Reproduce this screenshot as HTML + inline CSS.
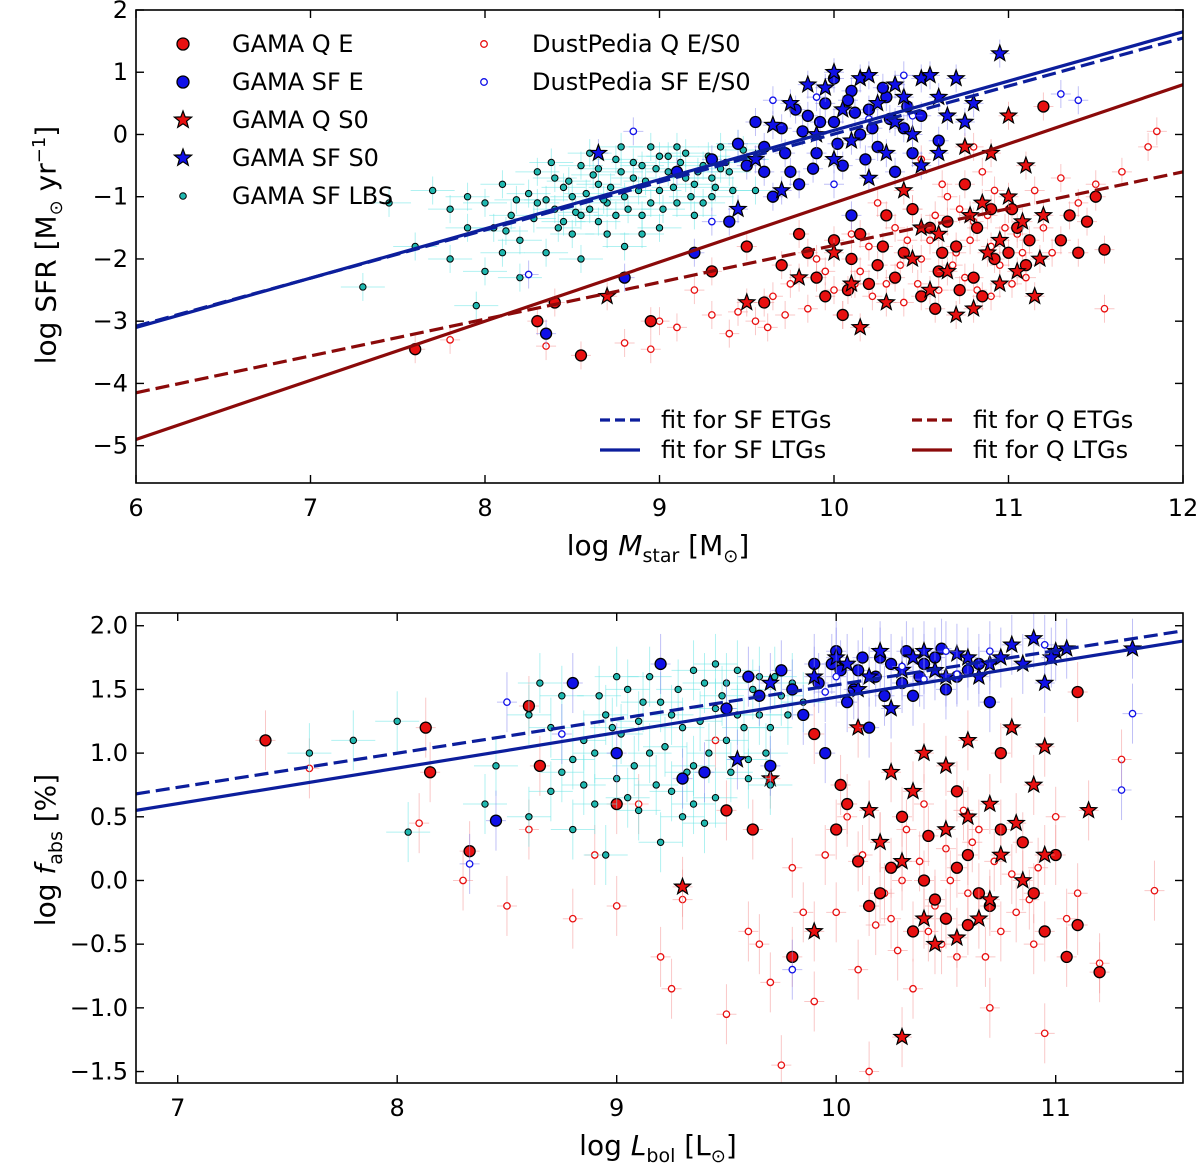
<!DOCTYPE html>
<html><head><meta charset="utf-8">
<style>
body{margin:0;background:#fff;}
svg text{font-family:"DejaVu Sans","Liberation Sans",sans-serif;fill:#000;}
</style></head>
<body>
<svg id="chart" width="1200" height="1171" viewBox="0 0 1200 1171" xmlns="http://www.w3.org/2000/svg"></svg>
<script>
// ---- Top panel data (log Mstar, log SFR) ----
const topLBS=[[7.3,-2.45],[7.45,-1.1],[7.6,-1.8],[7.7,-0.9],[7.8,-1.2],[7.9,-1.0],[8.0,-2.2],[8.05,-1.5],[8.1,-0.8],[8.15,-1.3],[8.2,-1.7],[8.25,-0.95],[8.3,-1.1],[8.35,-1.9],[8.4,-0.7],[8.45,-1.4],[8.5,-1.0],[8.55,-0.5],[8.6,-1.2],[8.65,-0.8],[8.7,-1.6],[8.75,-0.4],[8.8,-1.0],[8.85,-0.7],[8.9,-1.3],[8.95,-0.2],[9.0,-0.9],[9.05,-0.6],[9.1,-1.1],[9.15,-0.3],[9.2,-0.8],[9.25,-0.5],[9.3,-1.0],[9.35,-0.2],[9.4,-0.6],[9.5,-0.4],[9.55,-0.9],[8.6,-0.3],[8.3,-0.6],[8.0,-1.1],[8.9,-0.5],[9.0,-1.5],[8.5,-1.6],[8.2,-2.3],[7.8,-2.0],[9.2,-1.3],[8.7,-1.1],[9.1,-0.2],[8.4,-1.2],[8.8,-1.8],[9.3,-0.7],[8.1,-1.9],[7.95,-2.75],[8.55,-2.0],[8.65,-1.4],[8.95,-1.1],[9.05,-0.35],[8.45,-0.85],
[8.52,-1.25],[8.58,-0.95],[8.62,-0.65],[8.68,-1.05],[8.72,-0.85],[8.78,-0.6],[8.82,-1.2],[8.88,-0.9],[8.92,-0.75],[8.98,-0.55],[9.02,-1.2],[9.08,-0.85],[9.12,-0.45],[9.18,-1.0],[9.22,-0.6],[9.28,-0.35],[9.32,-0.85],[9.38,-0.45],[9.42,-0.9],[9.48,-0.25],[8.35,-1.05],[8.42,-1.5],[8.48,-0.75],[8.28,-1.35],[8.18,-1.05],[8.75,-1.3],[8.85,-0.45],[9.15,-0.7],[9.25,-1.1],[8.55,-1.3],[8.9,-1.6],[9.0,-0.35],[8.65,-0.55],[9.35,-0.55],[8.38,-0.45],[8.12,-1.55],[7.9,-1.5],[8.78,-0.2],[9.45,-0.15]];
const topSFE=[[8.35,-3.2],[8.8,-2.3],[9.2,-1.9],[9.4,-1.4],[9.5,-0.5],[9.6,-0.2],[9.7,0.1],[9.8,-0.8],[9.85,0.3],[9.9,-0.3],[9.95,0.5],[10.0,0.2],[10.05,-0.5],[10.1,0.7],[10.15,0.0],[10.2,0.4],[10.25,-0.2],[10.3,0.6],[10.4,0.1],[10.5,0.3],[10.6,-0.1],[9.3,-0.4],[9.65,-1.0],[10.1,-1.3],[9.1,-0.6],[10.0,0.9],[9.75,-0.6],[9.55,0.2],[10.35,-0.6],
[9.6,-0.6],[9.72,-0.3],[9.82,0.05],[9.92,0.2],[10.02,-0.15],[10.12,0.35],[10.22,0.1],[10.32,0.25],[10.42,0.45],[9.88,-0.55],[10.08,0.55],[9.45,-0.15],[10.18,-0.4],[10.45,-0.3],[9.78,0.4],[10.28,0.75]];
const topSFS0=[[8.65,-0.3],[9.45,-1.2],[9.55,-0.4],[9.7,-0.9],[9.9,0.0],[10.0,1.0],[10.05,0.4],[10.15,0.9],[10.25,0.5],[10.3,-0.3],[10.35,0.8],[10.45,0.0],[10.5,0.9],[10.6,0.6],[10.7,0.9],[10.75,0.2],[10.5,-0.5],[10.2,-0.7],[10.95,1.3],[9.75,0.5],[10.1,-0.1],[9.85,0.8],
[10.55,0.95],[10.65,0.3],[10.4,0.6],[10.2,0.95],[9.95,0.75],[10.8,0.5],[10.0,-0.4],[9.65,0.15],[10.35,0.2],[10.6,-0.3]];
const topQE=[[7.6,-3.45],[8.3,-3.0],[8.4,-2.7],[8.55,-3.55],[8.95,-3.0],[9.3,-2.2],[9.5,-1.8],[9.6,-2.7],[9.7,-2.1],[9.8,-1.6],[9.9,-2.3],[10.0,-1.7],[10.05,-2.9],[10.1,-2.0],[10.2,-2.4],[10.3,-1.3],[10.4,-1.9],[10.5,-2.6],[10.55,-1.5],[10.6,-2.2],[10.7,-1.8],[10.75,-0.8],[10.8,-2.3],[10.9,-1.2],[11.0,-1.9],[11.05,-1.5],[11.1,-2.1],[11.2,0.45],[11.3,-1.7],[11.35,-1.3],[11.45,-1.4],[11.5,-1.0],[11.55,-1.85],[10.25,-2.1],[9.95,-2.6],[10.65,-1.4],[10.85,-2.6],
[10.15,-1.6],[10.35,-2.3],[10.45,-1.2],[10.62,-1.9],[10.72,-2.5],[10.82,-1.5],[10.92,-2.0],[11.02,-1.2],[10.08,-2.5],[10.28,-1.8],[9.85,-1.9],[10.58,-2.8],[11.12,-1.7],[11.4,-1.9]];
const topQS0=[[8.7,-2.6],[9.5,-2.7],[9.8,-2.3],[10.0,-1.9],[10.1,-2.4],[10.15,-3.1],[10.3,-2.7],[10.45,-2.0],[10.55,-2.5],[10.6,-1.6],[10.7,-2.9],[10.8,-2.8],[10.85,-1.1],[10.9,-0.3],[10.95,-1.7],[11.0,0.3],[11.05,-2.2],[11.1,-0.5],[11.15,-2.6],[10.75,-0.2],[10.4,-0.9],[10.65,-2.2],[11.2,-1.3],
[10.95,-2.4],[11.0,-1.0],[10.88,-1.9],[11.08,-1.4],[10.5,-1.5],[10.78,-1.3],[11.18,-2.0]];
const topDPQ=[[7.8,-3.3],[8.35,-3.4],[8.8,-3.35],[8.95,-3.45],[9.1,-3.1],[9.3,-2.9],[9.4,-3.2],[9.55,-3.0],[9.65,-2.6],[9.75,-2.4],[9.85,-2.8],[9.9,-2.0],[10.0,-2.5],[10.1,-1.6],[10.15,-2.2],[10.2,-1.8],[10.3,-2.4],[10.35,-1.5],[10.4,-2.7],[10.45,-1.2],[10.5,-2.0],[10.55,-1.7],[10.6,-2.5],[10.65,-1.0],[10.7,-1.9],[10.75,-2.3],[10.8,-1.4],[10.85,-0.6],[10.9,-1.8],[10.95,-2.1],[11.0,-1.2],[11.05,-1.6],[11.1,-2.3],[11.15,-0.9],[11.2,-1.5],[11.3,-0.7],[11.4,-1.1],[11.5,-0.8],[11.55,-2.8],[11.85,0.05],[11.8,-0.2],[11.65,-0.6],[10.5,-0.4],[10.25,-1.1],[10.8,-0.2],[9.2,-2.5],[9.0,-3.0],[10.05,-2.9],[10.9,-2.6],[11.25,-1.9],
[10.22,-2.6],[10.38,-2.1],[10.48,-2.4],[10.58,-1.3],[10.68,-2.1],[10.78,-1.7],[10.88,-1.3],[10.98,-1.5],[11.08,-1.9],[10.62,-0.8],[10.72,-1.2],[10.92,-0.9],[11.02,-2.4],[10.42,-1.7],[10.12,-2.4],[9.95,-2.2],[9.72,-2.9],[9.62,-3.1],[9.45,-2.85],[10.82,-2.5]];
const topDPSF=[[9.65,0.55],[8.85,0.05],[9.3,-1.4],[10.0,-0.8],[10.4,0.95],[10.45,0.3],[10.2,0.25],[11.3,0.65],[11.4,0.55],[9.9,0.6],[8.25,-2.25]];
// fit lines: [x0,y0,x1,y1]
const topFitSFETG=[6,-3.08,12,1.55];
const topFitSFLTG=[6,-3.1,12,1.65];
const topFitQETG=[6,-4.15,12,-0.6];
const topFitQLTG=[6,-4.9,12,0.8];
const topXTicks=[6,7,8,9,10,11,12];
const topYTicks=[2,1,0,-1,-2,-3,-4,-5];
// ---- Bottom panel data (log Lbol, log fabs) ----
const botLBS=[[7.6,1.0],[7.8,1.1],[8.0,1.25],[8.05,0.38],[8.4,0.6],[8.45,0.9],[8.6,0.5],[8.7,0.7],[8.75,0.85],[8.8,0.4],[8.85,1.1],[8.9,0.6],[8.95,1.3],[9.0,0.8],[9.05,1.5],[9.1,0.55],[9.15,1.0],[9.2,1.4],[9.25,0.7],[9.3,1.2],[9.35,0.9],[9.4,1.55],[9.45,0.65],[9.5,1.1],[9.55,1.3],[9.6,0.95],[9.65,1.6],[9.7,1.2],[9.75,1.45],[9.0,1.6],[8.9,1.0],[9.2,0.3],[9.3,0.5],[8.6,1.3],[8.75,1.45],[9.45,1.7],[9.1,1.25],[9.6,0.8],[8.85,0.75],[9.4,0.45],[9.55,1.65],[8.95,0.2],
[9.02,1.15],[9.08,0.9],[9.12,1.4],[9.18,0.75],[9.22,1.05],[9.28,1.5],[9.32,0.85],[9.38,1.25],[9.42,1.0],[9.48,1.45],[9.52,0.85],[9.58,1.2],[9.62,1.5],[9.68,1.0],[9.72,1.6],[9.78,1.3],[8.92,1.45],[8.98,1.2],[9.15,1.6],[9.25,1.3],[9.35,1.65],[9.5,1.55],[8.8,0.95],[8.7,1.2],[8.65,1.55],[9.05,0.65],[9.35,0.6],[9.45,1.35],[9.65,1.3],[9.7,0.75],[9.8,1.55],[9.85,1.4]];
const botSFE=[[8.45,0.47],[8.8,1.55],[9.0,1.0],[9.2,1.7],[9.3,0.8],[9.5,1.35],[9.6,1.6],[9.7,0.9],[9.8,1.5],[9.9,1.7],[10.0,1.8],[10.05,1.4],[10.1,1.65],[10.2,1.75],[10.3,1.55],[10.4,1.7],[10.5,1.5],[10.6,1.65],[10.7,1.4],[9.95,1.0],[9.4,0.85],[10.15,1.2],[9.85,1.3],
[9.92,1.55],[10.02,1.65],[10.08,1.5],[10.12,1.75],[10.18,1.6],[10.25,1.7],[10.32,1.8],[10.38,1.6],[10.45,1.75],[10.55,1.6],[10.65,1.7],[9.75,1.65],[9.65,1.45],[10.22,1.45],[10.48,1.82],[9.98,1.7],[10.35,1.45]];
const botSFS0=[[9.7,1.55],[9.9,1.6],[10.0,1.75],[10.1,1.5],[10.2,1.8],[10.3,1.65],[10.4,1.8],[10.5,1.6],[10.6,1.75],[10.7,1.7],[10.8,1.85],[10.9,1.9],[11.0,1.8],[11.35,1.82],[10.95,1.55],[9.55,0.95],[10.25,1.35],
[10.05,1.7],[10.15,1.6],[10.35,1.75],[10.45,1.65],[10.55,1.78],[10.65,1.6],[10.75,1.75],[10.85,1.7],[10.98,1.75],[11.05,1.82]];
const botQE=[[7.4,1.1],[8.13,1.2],[8.15,0.85],[8.33,0.23],[8.6,1.37],[8.65,0.9],[9.0,0.6],[9.5,0.55],[9.8,-0.6],[10.0,0.4],[10.1,0.15],[10.2,-0.1],[10.3,0.5],[10.4,0.0],[10.5,-0.3],[10.6,0.2],[10.7,-0.2],[10.75,1.0],[10.85,0.3],[10.95,-0.4],[11.0,0.2],[11.05,-0.6],[11.1,1.48],[11.2,-0.72],[11.1,-0.35],[10.55,0.7],[10.35,-0.4],[9.9,1.15],
[10.05,0.6],[10.15,-0.2],[10.25,0.1],[10.45,-0.15],[10.55,0.1],[10.65,-0.1],[10.75,0.4],[10.9,-0.1],[10.42,0.35],[10.02,0.75],[10.6,-0.35],[9.62,0.4]];
const botQS0=[[9.3,-0.05],[9.7,0.8],[9.9,-0.4],[10.1,1.2],[10.2,0.3],[10.3,-1.23],[10.35,0.7],[10.4,1.0],[10.45,-0.5],[10.5,0.4],[10.6,1.1],[10.65,-0.3],[10.7,0.6],[10.8,1.2],[10.85,0.0],[10.9,0.75],[10.95,1.05],[11.15,0.55],[10.25,0.85],[10.55,-0.45],[10.75,0.2],
[10.3,0.15],[10.5,0.9],[10.6,0.5],[10.7,-0.15],[10.82,0.45],[10.95,0.2],[10.4,-0.3],[10.15,0.55]];
const botDPQ=[[7.6,0.88],[8.1,0.45],[8.3,0.0],[8.5,-0.2],[8.6,0.4],[8.8,-0.3],[8.9,0.2],[9.0,-0.2],[9.1,0.6],[9.2,-0.6],[9.25,-0.85],[9.3,-0.15],[9.5,-1.05],[9.6,-0.4],[9.7,-0.8],[9.75,-1.45],[9.8,0.1],[9.9,-0.95],[10.0,-0.25],[10.05,0.5],[10.1,-0.7],[10.15,-1.5],[10.2,0.3],[10.25,-0.3],[10.3,0.0],[10.35,-0.85],[10.4,0.6],[10.45,-0.2],[10.5,0.25],[10.55,-0.6],[10.6,-0.1],[10.65,0.4],[10.7,-1.0],[10.75,-0.4],[10.8,0.05],[10.9,-0.5],[10.95,-1.2],[11.0,0.5],[11.1,-0.1],[11.2,-0.65],[11.3,0.95],[11.45,-0.08],[9.45,1.1],[9.65,-0.5],
[10.12,0.2],[10.22,-0.1],[10.32,0.4],[10.42,-0.4],[10.52,0.0],[10.62,0.3],[10.72,0.15],[10.82,-0.25],[10.92,0.1],[10.48,-0.5],[10.28,-0.55],[10.58,0.55],[10.38,0.15],[10.18,-0.35],[9.85,-0.25],[9.95,0.2],[10.68,-0.6],[10.88,-0.15],[11.05,-0.3]];
const botDPSF=[[8.5,1.4],[8.33,0.13],[8.75,1.15],[9.8,-0.7],[10.5,1.8],[10.95,1.85],[11.35,1.31],[11.3,0.71],[10.0,1.6],[10.3,1.68],[10.55,1.62],[9.95,1.48],[10.7,1.8],[10.4,1.58]];
const botFitSFETG=[6.81,0.68,11.58,1.96];
const botFitSFLTG=[6.81,0.55,11.58,1.88];
const botXTicks=[7,8,9,10,11];
const botYTicks=[2.0,1.5,1.0,0.5,0.0,-0.5,-1.0,-1.5];

const NS='http://www.w3.org/2000/svg';
const svg=document.getElementById('chart');
function mk(tag,attrs,parent){const e=document.createElementNS(NS,tag);for(const k in attrs)e.setAttribute(k,attrs[k]);(parent||svg).appendChild(e);return e;}
const C={lbs:'#1fb8b0',blue:'#1010e8',red:'#e81010',navy:'#0c1e9c',dred:'#8b0a0a'};
function starPts(cx,cy,R){let p=[];for(let i=0;i<10;i++){const r=i%2?R*0.42:R;const a=-Math.PI/2+i*Math.PI/5;p.push((cx+r*Math.cos(a)).toFixed(1)+','+(cy+r*Math.sin(a)).toFixed(1));}return p.join(' ');}

function panel(P){
  const sx=v=>P.x0+(v-P.xmin)/(P.xmax-P.xmin)*(P.x1-P.x0);
  const sy=v=>P.y1-(v-P.ymin)/(P.ymax-P.ymin)*(P.y1-P.y0);
  const g=mk('g',{});
  
  
  const cp=mk('clipPath',{id:P.name+'-clip'},g);mk('rect',{x:P.x0,y:P.y0,width:P.x1-P.x0,height:P.y1-P.y0},cp);
  const plot=mk('g',{'clip-path':'url(#'+P.name+'-clip)'},g);
  function series(data,kind,name){
    const sg=mk('g',{},plot);
    
    
    const ec={lbs:'#6fe6e6',blue:'#8c8cf0',red:'#f59a9a'}[kind.c];
    const exk=kind.c==='lbs'?P.ex*2.2:P.ex;
    data.forEach(d=>{
      const cx=sx(d[0]),cy=sy(d[1]);
      mk('line',{x1:cx,x2:cx,y1:cy-P.ey,y2:cy+P.ey,stroke:ec,'stroke-width':1,opacity:0.55},sg);
      mk('line',{x1:cx-exk,x2:cx+exk,y1:cy,y2:cy,stroke:ec,'stroke-width':1,opacity:0.55},sg);
    });
    data.forEach(d=>{
      const cx=sx(d[0]),cy=sy(d[1]);
      let m;
      if(kind.t==='circle') m=mk('circle',{cx:cx,cy:cy,r:5.5,fill:C[kind.c],stroke:'#000','stroke-width':1.3},sg);
      else if(kind.t==='small') m=mk('circle',{cx:cx,cy:cy,r:3.2,fill:C.lbs,stroke:'#000','stroke-width':1},sg);
      else if(kind.t==='open') m=mk('circle',{cx:cx,cy:cy,r:3.2,fill:'#fff',stroke:C[kind.c],'stroke-width':1.3},sg);
      else m=mk('polygon',{points:starPts(cx,cy,8.5),fill:C[kind.c],stroke:'#000','stroke-width':1.2},sg);
      
      
    });
  }
  P.series.forEach(s=>series(s[0],s[1],s[2]));
  P.fits.forEach(f=>{
    const l=mk('line',{x1:sx(f[0][0]),y1:sy(f[0][1]),x2:sx(f[0][2]),y2:sy(f[0][3]),stroke:f[1],'stroke-width':3.2,'stroke-dasharray':f[2]?'14,6':'none'},plot);
    
    
  });
  const fr=mk('rect',{x:P.x0,y:P.y0,width:P.x1-P.x0,height:P.y1-P.y0,fill:'none',stroke:'#000','stroke-width':1.6},g);
  
  
  P.xt.forEach(v=>{const x=sx(v);
    mk('line',{x1:x,x2:x,y1:P.y1,y2:P.y1-8,stroke:'#000','stroke-width':1.4},g);
    mk('line',{x1:x,x2:x,y1:P.y0,y2:P.y0+8,stroke:'#000','stroke-width':1.4},g);
    const t=mk('text',{x:x,y:P.y1+33,'text-anchor':'middle','font-size':24},g);t.textContent=P.xf(v);
    
    });
  P.yt.forEach(v=>{const y=sy(v);
    mk('line',{x1:P.x0,x2:P.x0+8,y1:y,y2:y,stroke:'#000','stroke-width':1.4},g);
    mk('line',{x1:P.x1,x2:P.x1-8,y1:y,y2:y,stroke:'#000','stroke-width':1.4},g);
    const t=mk('text',{x:P.x0-8,y:y+8,'text-anchor':'end','font-size':24},g);t.textContent=P.yf(v);
    
    });
}
const minus=s=>String(s).replace('-','\u2212');
panel({name:'sfr-mass-panel',x0:136,x1:1183,y0:10,y1:483,xmin:6,xmax:12,ymin:-5.6,ymax:2,ex:10,ey:14,
  series:[[topDPQ,{t:'open',c:'red'},'dustpedia-q'],[topQE,{t:'circle',c:'red'},'gama-q-e'],[topQS0,{t:'star',c:'red'},'gama-q-s0'],[topLBS,{t:'small',c:'lbs'},'gama-sf-lbs'],[topSFE,{t:'circle',c:'blue'},'gama-sf-e'],[topSFS0,{t:'star',c:'blue'},'gama-sf-s0'],[topDPSF,{t:'open',c:'blue'},'dustpedia-sf']],
  fits:[[topFitQETG,C.dred,true,'fit-q-etg'],[topFitQLTG,C.dred,false,'fit-q-ltg'],[topFitSFETG,C.navy,true,'fit-sf-etg'],[topFitSFLTG,C.navy,false,'fit-sf-ltg']],
  xt:topXTicks,yt:topYTicks,xf:v=>v,yf:v=>minus(v)});
panel({name:'fabs-lbol-panel',x0:136,x1:1183,y0:613,y1:1083,xmin:6.81,xmax:11.58,ymin:-1.59,ymax:2.1,ex:10,ey:30,
  series:[[botDPQ,{t:'open',c:'red'},'dustpedia-q'],[botQE,{t:'circle',c:'red'},'gama-q-e'],[botQS0,{t:'star',c:'red'},'gama-q-s0'],[botLBS,{t:'small',c:'lbs'},'gama-sf-lbs'],[botSFE,{t:'circle',c:'blue'},'gama-sf-e'],[botSFS0,{t:'star',c:'blue'},'gama-sf-s0'],[botDPSF,{t:'open',c:'blue'},'dustpedia-sf']],
  fits:[[botFitSFETG,C.navy,true,'fit-sf-etg'],[botFitSFLTG,C.navy,false,'fit-sf-ltg']],
  xt:botXTicks,yt:botYTicks,xf:v=>v,yf:v=>minus(v.toFixed(1))});

// legend
const leg=mk('g',{});


const L=[['circle','red','GAMA Q E',183,44,232],['circle','blue','GAMA SF E',183,82,232],['star','red','GAMA Q S0',183,120,232],['star','blue','GAMA SF S0',183,158,232],['small','lbs','GAMA SF LBS',183,196,232],['open','red','DustPedia Q E/S0',484,44,532],['open','blue','DustPedia SF E/S0',484,82,532]];
L.forEach(e=>{
  if(e[0]==='circle')mk('circle',{cx:e[3],cy:e[4],r:6,fill:C[e[1]],stroke:'#000','stroke-width':1.3},leg);
  else if(e[0]==='star')mk('polygon',{points:starPts(e[3],e[4],9),fill:C[e[1]],stroke:'#000','stroke-width':1.2},leg);
  else if(e[0]==='small')mk('circle',{cx:e[3],cy:e[4],r:3.3,fill:C.lbs,stroke:'#000','stroke-width':1},leg);
  else mk('circle',{cx:e[3],cy:e[4],r:3.3,fill:'#fff',stroke:C[e[1]],'stroke-width':1.3},leg);
  const t=mk('text',{x:e[5],y:e[4]+8,'font-size':24},leg);t.textContent=e[2];
  
  
});
[[600,420,C.navy,true,'fit for SF ETGs'],[600,450,C.navy,false,'fit for SF LTGs'],[912,420,C.dred,true,'fit for Q ETGs'],[912,450,C.dred,false,'fit for Q LTGs']].forEach(e=>{
  mk('line',{x1:e[0],x2:e[0]+40,y1:e[1],y2:e[1],stroke:e[2],'stroke-width':3.2,'stroke-dasharray':e[3]?'10,5':'none'},leg);
  const t=mk('text',{x:e[0]+61,y:e[1]+8,'font-size':24},leg);t.textContent=e[4];
  
  
});
</script>
<div style="position:absolute;left:0;top:0;width:1200px;height:1171px;pointer-events:none;font-family:'DejaVu Sans','Liberation Sans',sans-serif;font-size:28px;">
  <div style="position:absolute;left:48px;top:245px;transform:translate(-50%,-50%) rotate(-90deg);white-space:nowrap;">log SFR [M<sub style="font-size:18px">⊙</sub> yr<sup style="font-size:18px">−1</sup>]</div>
  <div style="position:absolute;left:658px;top:548px;transform:translate(-50%,-50%);white-space:nowrap;">log <i>M</i><sub style="font-size:19px">star</sub> [M<sub style="font-size:18px">⊙</sub>]</div>
  <div style="position:absolute;left:48px;top:850px;transform:translate(-50%,-50%) rotate(-90deg);white-space:nowrap;">log <i>f</i><sub style="font-size:19px">abs</sub> [%]</div>
  <div style="position:absolute;left:658px;top:1148px;transform:translate(-50%,-50%);white-space:nowrap;">log <i>L</i><sub style="font-size:19px">bol</sub> [L<sub style="font-size:18px">⊙</sub>]</div>
</div>
</body></html>
